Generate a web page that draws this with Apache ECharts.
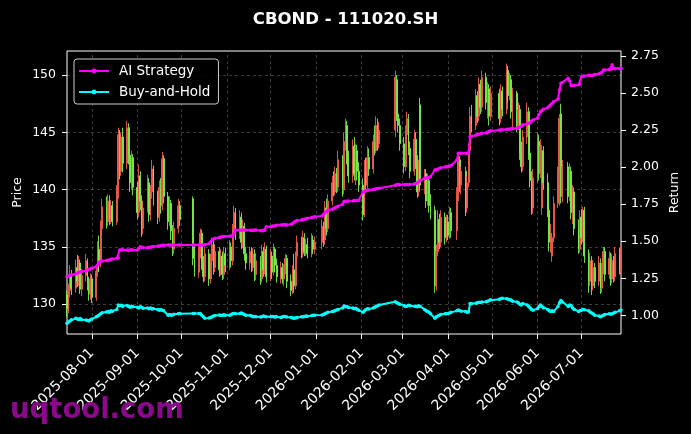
<!DOCTYPE html>
<html><head><meta charset="utf-8">
<script src="https://cdn.jsdelivr.net/npm/echarts@6/dist/echarts.min.js"></script>
<style>html,body{margin:0;padding:0;background:#000;}#c{width:691px;height:434px;}</style>
</head><body><div id="c"></div>
<script>
const FONT = 'DejaVu Sans';
const titleText = 'CBOND - 111020.SH';
const firstDay = '2025-07-15';
const lastDay = '2026-07-28';
const holidays = ['2025-10-01','2025-10-02','2025-10-03','2025-10-06','2025-10-07','2025-10-08',
  '2026-01-01','2026-01-02','2026-02-16','2026-02-17','2026-02-18','2026-02-19','2026-02-20','2026-02-23',
  '2026-04-06','2026-05-01','2026-05-04','2026-05-05','2026-06-19'];
const monthTicks = ['2025-08-01','2025-09-01','2025-10-01','2025-11-01','2025-12-01','2026-01-01',
  '2026-02-01','2026-03-01','2026-04-01','2026-05-01','2026-06-01','2026-07-01'];
const priceTicks = [130,135,140,145,150];
const returnTicks = [1.00,1.25,1.50,1.75,2.00,2.25,2.50,2.75];

// [open, close, low, high] per trading day
const ohlc = [
 // 2025-07
 [130.8,129.6,128.9,131.2],[129.6,131.2,129.2,131.8],[131.2,132.6,130.6,133.4],[132.6,131.4,130.8,133.0],[131.4,133.2,131.0,133.9],
 [133.2,132.0,131.5,134.3],[132.0,133.6,131.6,134.2],[133.6,131.3,130.9,133.9],[131.3,132.5,130.7,133.1],[132.5,133.8,132.0,134.4],
 [133.8,131.8,131.2,134.0],[131.8,130.9,130.3,132.4],[130.9,132.2,130.4,132.7],
 // 2025-08
 [132.2,130.6,130.1,132.6],
 [130.6,132.9,130.3,133.4],[132.9,134.8,132.4,135.5],[134.8,133.6,132.8,136.0],[133.6,136.6,133.2,137.3],[136.6,138.5,136.0,139.2],
 [138.5,137.2,136.6,139.4],[137.2,139.0,136.8,139.6],[139.0,137.4,136.9,139.5],[137.4,138.6,137.0,139.1],[138.6,137.2,136.8,139.0],
 [137.2,139.8,136.9,140.4],[139.8,144.8,139.2,145.4],[144.8,141.6,140.9,145.2],[141.6,144.6,141.2,145.0],[144.6,142.3,141.5,145.4],
 [142.3,145.4,141.8,146.0],[145.4,143.0,142.2,145.8],[143.0,140.6,139.8,143.6],[140.6,142.8,140.0,143.4],[142.8,140.2,139.5,143.1],
 // 2025-09
 [140.2,138.0,137.4,140.7],[138.0,141.2,137.6,142.2],[141.2,139.0,138.2,141.6],[139.0,136.6,135.9,139.5],[136.6,138.4,136.1,139.0],
 [138.4,140.6,138.0,141.3],[140.6,137.8,137.2,141.0],[137.8,139.8,137.3,140.4],[139.8,141.8,139.2,142.6],[141.8,139.4,138.6,142.1],
 [139.4,137.6,137.0,139.9],[137.6,140.2,137.2,140.8],[140.2,138.6,137.9,141.0],[138.6,142.7,138.2,143.3],[142.7,139.4,138.8,143.0],
 [139.4,137.2,136.5,139.8],[137.2,138.8,136.8,139.4],[138.8,136.4,135.6,139.1],[136.4,134.8,134.2,136.9],[134.8,136.6,134.4,137.2],
 [136.6,138.6,136.2,139.2],[138.6,137.4,136.8,139.0],
 // 2025-10
 [139.2,134.0,133.4,139.4],[134.0,132.8,132.4,135.2],
 [132.8,134.6,132.3,135.3],[134.6,136.2,134.0,136.6],[136.2,133.6,133.0,136.5],[133.6,132.4,131.9,134.2],[132.4,134.4,132.0,135.0],
 [134.4,132.2,131.6,134.8],[132.2,133.8,131.8,134.4],[133.8,135.2,133.2,135.8],[135.2,133.2,132.6,135.6],[133.2,134.6,132.8,135.1],
 [134.6,133.0,132.4,135.0],[133.0,134.2,132.5,134.8],[134.2,132.6,132.1,134.6],[132.6,134.4,132.2,135.0],[134.4,133.4,132.8,134.9],
 // 2025-11
 [133.4,135.0,133.0,135.6],[135.0,133.8,133.2,135.4],[133.8,136.4,133.4,137.0],[136.4,138.0,135.8,138.6],[138.0,136.2,135.6,138.4],
 [136.2,137.6,135.7,138.2],[137.6,135.4,134.8,138.0],[135.4,136.8,134.9,137.4],[136.8,134.4,133.8,137.1],[134.4,133.6,133.0,135.0],
 [133.6,134.6,133.0,135.0],[134.6,133.2,132.8,135.0],[133.2,134.4,132.9,134.9],[134.4,132.6,132.0,134.8],[132.6,133.8,132.1,134.3],
 [133.8,132.2,131.7,134.2],[132.2,134.6,131.9,135.2],[134.6,133.0,132.4,135.0],[133.0,134.8,132.6,135.4],[134.8,132.4,131.9,135.1],
 // 2025-12
 [132.4,134.2,132.0,134.8],[134.2,132.8,132.2,134.6],[132.8,134.8,132.5,135.3],[134.8,133.4,132.8,135.0],[133.4,132.4,131.9,134.0],
 [132.4,133.2,131.8,133.7],[133.2,132.2,131.8,133.6],[132.2,133.0,131.6,133.5],[133.0,134.0,132.6,134.4],[134.0,132.0,131.4,134.3],
 [132.0,131.2,130.7,132.6],[131.2,133.0,130.9,133.4],[133.0,131.6,131.0,134.4],[131.6,134.2,131.3,134.6],[134.2,135.4,133.8,136.0],
 [135.4,134.4,134.0,135.9],[134.4,135.8,134.1,136.4],[135.8,134.6,134.2,136.2],[134.6,135.2,134.2,135.7],[135.2,134.4,134.0,135.8],
 [134.4,135.6,134.1,136.2],[135.6,134.8,134.4,136.0],[134.8,135.4,134.4,135.9],
 // 2026-01
 [135.4,136.8,134.8,137.4],[136.8,135.6,135.0,137.2],[135.6,138.4,135.2,139.0],[138.4,136.6,136.0,139.2],[136.6,139.0,136.3,139.6],
 [139.0,140.6,138.6,141.2],[140.6,139.8,139.4,141.6],[139.8,141.4,139.5,142.0],[141.4,140.2,139.7,141.9],[140.2,142.6,139.8,143.4],
 [142.6,140.0,139.4,143.0],[140.0,144.2,139.6,145.0],[144.2,145.6,143.4,146.2],[145.6,142.8,142.2,146.0],[142.8,141.2,140.6,143.4],
 [141.2,143.8,140.6,144.4],[143.8,141.4,140.8,144.6],[141.4,143.4,140.4,144.0],[143.4,141.6,140.8,143.9],[141.6,140.4,139.8,142.4],
 // 2026-02
 [140.4,137.8,137.3,141.0],[137.8,141.6,137.6,142.6],[141.6,140.4,139.9,142.8],[140.4,142.8,140.0,143.8],[142.8,141.8,141.2,143.6],
 [141.8,144.2,141.4,144.8],[144.2,143.4,143.0,145.6],[143.4,145.6,143.2,146.4],[145.6,144.0,143.4,146.2],[144.0,145.2,143.6,145.9],
 [145.2,149.8,144.6,150.4],[149.6,146.6,146.0,150.0],[146.6,145.6,145.0,147.8],[145.6,144.0,143.4,146.2],
 // 2026-03
 [144.0,142.0,141.4,144.6],[142.0,144.8,141.6,145.6],[144.8,146.2,144.2,146.8],[146.2,143.6,143.0,146.6],[143.6,141.6,141.0,144.2],
 [141.6,144.4,141.2,145.2],[144.4,142.4,141.8,145.0],[142.4,139.8,139.3,143.0],[139.8,142.0,139.4,142.6],[147.4,140.4,140.0,148.0],
 [140.4,141.4,139.6,141.8],[141.4,139.0,138.4,141.8],[139.0,140.8,138.6,141.4],[140.8,138.6,138.0,141.2],[138.6,138.0,137.4,139.6],
 [138.2,131.6,131.0,138.6],[131.6,134.6,131.2,135.2],[134.6,137.4,134.2,138.2],[137.4,135.4,134.8,137.9],[135.4,137.6,135.0,138.2],
 [137.6,135.8,135.2,138.0],[135.8,137.2,135.4,137.8],
 // 2026-04
 [137.2,136.0,135.6,137.8],[136.0,138.0,135.7,138.5],[138.0,136.4,135.8,138.4],
 [136.4,139.6,135.6,140.2],[139.6,142.6,139.0,143.2],[142.6,140.4,139.8,142.9],[140.4,141.6,139.6,142.0],
 [141.6,138.4,137.7,142.0],[138.4,140.6,138.0,141.2],[140.6,143.4,140.2,144.0],[143.4,146.4,143.0,147.2],[146.4,145.6,145.0,147.4],
 [145.6,148.2,145.2,148.8],[148.2,146.4,145.8,148.6],[146.4,149.2,146.0,149.8],[149.2,147.2,146.6,149.6],[147.2,149.8,146.8,150.4],
 [149.8,147.6,147.0,150.2],[147.6,148.8,146.2,149.4],[148.8,146.4,145.6,149.2],[146.4,148.4,146.0,149.0],
 // 2026-05
 [148.4,146.2,145.6,148.8],[146.2,148.6,145.8,149.2],[148.6,147.0,146.4,149.0],
 [147.0,150.4,146.6,151.0],[150.4,148.2,147.6,150.8],[148.2,149.6,147.8,150.2],[149.6,146.8,146.2,150.0],[146.8,148.4,145.4,148.9],
 [148.4,145.6,145.0,148.6],[145.6,147.0,145.2,147.6],[147.0,143.2,142.6,147.4],[143.2,142.0,141.5,144.2],[142.0,144.6,141.6,145.2],
 [144.6,146.8,144.0,147.6],[146.8,143.2,142.6,147.2],[143.2,140.8,140.2,144.6],[140.8,138.4,137.8,141.6],[138.4,141.0,137.9,141.8],
 // 2026-06
 [141.0,144.2,140.6,145.0],[144.2,141.4,140.8,144.8],[141.4,143.8,141.0,144.4],[138.4,143.4,137.8,143.9],[143.4,140.6,140.0,143.8],
 [140.6,138.2,137.6,141.4],[138.2,135.4,134.6,138.8],[135.4,136.2,134.5,137.0],[134.2,135.8,133.7,136.2],[135.8,138.8,135.4,139.4],
 [138.8,141.4,138.4,142.0],[141.4,146.2,138.6,146.6],[146.6,139.4,138.8,147.5],[139.4,142.0,138.9,142.6],
 [142.0,139.4,138.8,142.4],[139.4,141.6,139.0,142.3],[141.6,138.0,137.4,142.0],[138.0,139.8,137.0,140.4],[139.8,136.6,136.0,140.2],
 [136.6,134.8,134.4,137.4],[134.8,137.6,134.5,138.2],
 // 2026-07
 [137.6,135.8,135.2,138.3],[135.8,138.2,135.4,138.5],[138.2,134.2,133.6,138.5],
 [134.2,132.0,131.0,134.8],[132.0,133.8,131.6,134.5],[133.8,131.6,130.8,134.2],[131.6,133.2,131.2,133.8],[133.2,132.0,131.4,133.6],
 [132.0,133.6,131.6,134.2],[133.6,131.4,130.9,134.0],[131.4,133.0,131.0,133.6],[133.0,134.6,132.6,135.0],[134.6,132.6,132.0,135.0],
 [132.6,134.0,132.2,134.6],[134.0,132.2,131.6,134.5],[132.2,133.8,131.8,134.4],[133.8,132.4,131.9,134.2],[132.4,134.4,132.0,135.0],
 [134.4,133.0,132.6,134.9],[133.0,134.6,132.6,135.1]
];

const aiStrategy = [
 1.26,1.265,1.27,1.272,1.28,1.285,1.29,1.292,1.295,1.30,1.306,1.31,1.312,
 1.318,1.328,1.34,1.36,1.362,1.366,1.37,1.372,1.374,1.378,1.38,1.385,1.386,1.44,1.44,1.442,1.44,1.438,1.44,1.442,1.44,
 1.44,1.45,1.463,1.46,1.458,1.455,1.458,1.46,1.463,1.465,1.466,1.468,1.47,1.472,1.472,1.474,1.474,1.474,1.475,1.475,1.474,1.474,
 1.474,1.474,1.474,1.475,1.474,1.474,1.476,1.485,1.495,1.505,1.515,1.52,1.525,1.528,1.53,1.53,1.532,
 1.533,1.535,1.535,1.55,1.575,1.575,1.574,1.575,1.576,1.575,1.574,1.572,1.574,1.576,1.575,1.57,1.572,1.57,1.575,1.598,
 1.598,1.60,1.602,1.605,1.608,1.61,1.61,1.612,1.61,1.61,1.615,1.62,1.628,1.635,1.64,1.643,1.645,1.648,1.65,1.655,1.66,1.662,1.665,
 1.67,1.68,1.69,1.70,1.71,1.715,1.72,1.725,1.73,1.735,1.75,1.767,1.77,1.77,1.772,1.772,1.774,1.775,1.775,1.776,
 1.834,1.836,1.84,1.842,1.845,1.848,1.85,1.853,1.855,1.857,1.878,1.88,1.88,1.88,
 1.88,1.88,1.882,1.88,1.882,1.885,1.89,1.895,1.90,1.91,1.924,1.926,1.928,1.93,1.935,1.98,1.982,1.985,1.99,1.995,2.0,2.003,
 2.003,2.005,2.01,2.048,2.093,2.093,2.094,2.094,2.093,2.095,2.205,2.21,2.215,2.22,2.222,2.225,2.228,2.23,2.235,2.24,2.245,
 2.25,2.25,2.252,2.255,2.255,2.256,2.258,2.26,2.262,2.265,2.27,2.275,2.285,2.29,2.295,2.30,2.31,2.318,
 2.33,2.355,2.374,2.38,2.39,2.40,2.41,2.42,2.43,2.44,2.46,2.52,2.565,2.57,2.60,2.58,2.55,2.552,2.55,2.555,2.56,
 2.61,2.612,2.615,2.62,2.62,2.618,2.62,2.625,2.63,2.635,2.64,2.655,2.655,2.658,2.66,2.69,2.665,2.664,2.665,2.667
];

const buyHold = [
 0.946,0.955,0.962,0.97,0.98,0.975,0.972,0.978,0.97,0.968,0.965,0.962,0.97,
 0.975,0.99,0.995,1.002,1.01,1.018,1.022,1.025,1.02,1.03,1.028,1.04,1.07,1.065,1.068,1.06,1.066,1.06,1.055,1.062,1.058,
 1.055,1.05,1.058,1.052,1.048,1.05,1.045,1.05,1.042,1.045,1.04,1.035,1.038,1.035,1.03,1.0,1.005,1.0,1.002,1.008,1.01,1.012,
 1.013,1.013,1.012,1.013,1.0,0.99,0.98,0.982,0.985,0.99,0.995,0.998,1.002,0.998,1.0,1.004,1.0,
 1.0,1.005,1.01,1.013,1.01,1.012,1.015,1.01,1.005,1.0,0.998,0.995,0.99,0.992,0.99,0.988,0.99,0.995,0.992,0.99,
 0.99,0.992,0.99,0.988,0.99,0.985,0.99,0.992,0.99,0.988,0.985,0.982,0.98,0.982,0.985,0.99,0.988,0.992,0.995,0.993,0.998,1.0,1.0,
 1.002,1.005,1.01,1.015,1.02,1.025,1.028,1.032,1.036,1.04,1.05,1.063,1.058,1.06,1.052,1.05,1.045,1.048,1.04,1.035,
 1.02,1.03,1.04,1.045,1.042,1.05,1.055,1.06,1.065,1.07,1.092,1.085,1.08,1.075,
 1.065,1.06,1.062,1.068,1.065,1.062,1.06,1.058,1.065,1.06,1.04,1.03,1.025,1.02,1.01,0.98,0.99,0.995,1.0,1.005,1.01,1.01,
 1.012,1.015,1.02,1.03,1.036,1.03,1.028,1.025,1.02,1.022,1.08,1.078,1.082,1.085,1.088,1.086,1.09,1.092,1.095,1.1,1.105,
 1.108,1.112,1.115,1.112,1.108,1.105,1.103,1.095,1.09,1.085,1.075,1.07,1.08,1.07,1.06,1.05,1.04,1.035,
 1.045,1.06,1.07,1.06,1.05,1.04,1.03,1.025,1.03,1.025,1.06,1.085,1.10,1.09,1.06,1.07,1.065,1.05,1.04,1.025,1.03,
 1.035,1.04,1.038,1.03,1.02,1.015,1.01,1.0,0.995,0.99,0.995,1.0,1.005,1.01,1.008,1.01,1.015,1.02,1.03,1.036
];

function pad(n){return n<10?'0'+n:''+n;}
function ts(s){const p=s.split('-').map(Number);return new Date(p[0],p[1]-1,p[2]).getTime();}
function fmt(v){const d=new Date(v);return d.getFullYear()+'-'+pad(d.getMonth()+1)+'-'+pad(d.getDate());}

const tradingDays = [];
for (let t = ts(firstDay); t <= ts(lastDay); ) {
  const d = new Date(t);
  const s = fmt(t);
  if (d.getDay()!==0 && d.getDay()!==6 && holidays.indexOf(s)<0) tradingDays.push(t);
  d.setDate(d.getDate()+1); t = d.getTime();
}

const UP = '#f55a4d', DOWN = '#7cf04a';
const candleData = tradingDays.map((t,i)=>ohlc[i]?[t].concat(ohlc[i]):null).filter(Boolean);
const aiData = tradingDays.map((t,i)=>[t, aiStrategy[i]]);
const bhData = tradingDays.map((t,i)=>[t, buyHold[i]]);
const mismatch = (tradingDays.length!==ohlc.length||aiStrategy.length!==ohlc.length||buyHold.length!==ohlc.length);

const chart = echarts.init(document.getElementById('c'), null, {renderer:'canvas'});
const tickStyle = {color:'#ffffff', width:1};
chart.setOption({
  animation:false,
  backgroundColor:'#000000',
  textStyle:{fontFamily:FONT},
  title:{text:titleText, left:'center', top:6,
    textStyle:{color:'#ffffff', fontSize:16.5, fontWeight:'bold', fontFamily:FONT}},
  grid:{left:67, right:70, top:51, bottom:100, show:true, borderColor:'#ffffff', borderWidth:1, backgroundColor:'#000000'},
  legend:{left:74, top:59, orient:'vertical', itemGap:7, itemWidth:30, itemHeight:6,
    padding:[5,8,5,4], backgroundColor:'rgba(0,0,0,0.85)', borderColor:'#cccccc', borderWidth:1, borderRadius:3,
    textStyle:{color:'#ffffff', fontSize:13.5, fontFamily:FONT, padding:[0,0,0,5]},
    data:['AI Strategy','Buy-and-Hold']},
  xAxis:{type:'value', min:ts(firstDay), max:ts(lastDay), scale:true,
    axisLine:{show:false},
    axisTick:{show:true, length:5, lineStyle:tickStyle, customValues:monthTicks.map(ts)},
    axisLabel:{customValues:monthTicks.map(ts), rotate:45, color:'#ffffff', fontSize:14, fontFamily:FONT,
      margin:17, formatter:function(v){return fmt(v);}},
    splitLine:{show:false}},
  yAxis:[
    {type:'value', position:'left', min:127.4, max:152.1, name:'Price', nameLocation:'middle', nameGap:43, nameRotate:90,
     nameMoveOverlap:false,
     nameTextStyle:{color:'#ffffff', fontSize:12.5, fontFamily:FONT},
     axisLine:{show:false},
     axisTick:{show:true, length:5, lineStyle:tickStyle, customValues:priceTicks},
     axisLabel:{customValues:priceTicks, color:'#ffffff', fontSize:12.5, fontFamily:FONT, margin:11},
     splitLine:{show:false}},
    {type:'value', position:'right', min:0.874, max:2.783, name:'Return', nameLocation:'middle', nameGap:47, nameRotate:90,
     nameMoveOverlap:false,
     nameTextStyle:{color:'#ffffff', fontSize:12.5, fontFamily:FONT},
     axisLine:{show:false},
     axisTick:{show:true, length:5, lineStyle:tickStyle, customValues:returnTicks},
     axisLabel:{customValues:returnTicks, color:'#ffffff', fontSize:12.5, fontFamily:FONT, margin:10,
       formatter:function(v){return Number(v).toFixed(2);}},
     splitLine:{show:false}}
  ],
  graphic:[
    {type:'text', left:10, top:397, z:100, silent:true,
     style:{text:'uqtool.com', fill:'#8a0a8a', font:'bold 27.5px "DejaVu Sans"'}},
    {type:'text', left:300, top:200, z:100, invisible:!mismatch,
     style:{text:'LEN '+tradingDays.length+'/'+ohlc.length+'/'+aiStrategy.length+'/'+buyHold.length, fill:'#ffff00', font:'20px sans-serif'}}
  ],
  series:[
    {type:'candlestick', name:'Price', data:candleData, encode:{x:0, y:[1,2,3,4]}, barWidth:1.4, z:2,
     itemStyle:{color:UP, color0:DOWN, borderColor:UP, borderColor0:DOWN, borderWidth:0.9},
     markLine:{silent:true, z:1, symbol:['none','none'], animation:false, label:{show:false},
       emphasis:{disabled:true},
       lineStyle:{color:'rgba(150,150,150,0.5)', type:[3,3], width:0.8},
       data:monthTicks.map(function(t){return {xAxis:ts(t)};}).concat(priceTicks.map(function(p){return {yAxis:p};}))}},
    {type:'line', name:'AI Strategy', yAxisIndex:1, data:aiData, z:4, symbol:'circle', symbolSize:3.5,
     lineStyle:{color:'#ff00ff', width:2}, itemStyle:{color:'#ff00ff'}},
    {type:'line', name:'Buy-and-Hold', yAxisIndex:1, data:bhData, z:4, symbol:'circle', symbolSize:3.5,
     lineStyle:{color:'#00ffff', width:2}, itemStyle:{color:'#00ffff'}}
  ]
});
</script></body></html>
